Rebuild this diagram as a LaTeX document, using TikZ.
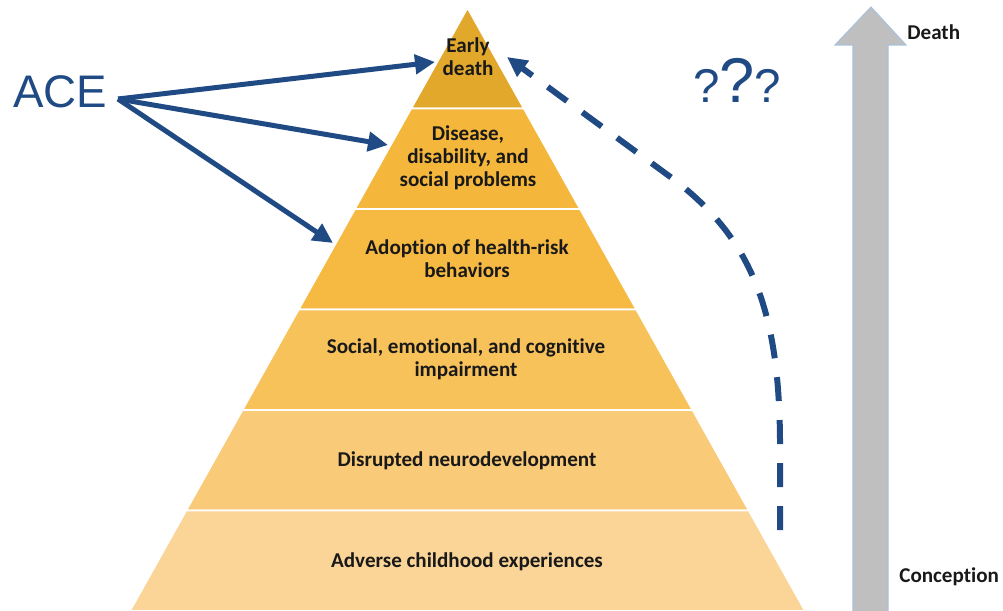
\documentclass[tikz,border=0pt]{standalone}
\usepackage{fontspec}
\setmainfont{Carlito}[Ligatures=CommonOff]
\newfontfamily\acefont{Liberation Sans}
\usepackage{xcolor}
\usepackage{tikz}
\usetikzlibrary{arrows.meta,calc}

\definecolor{layerA}{HTML}{E2A82C}
\definecolor{layerB}{HTML}{F4B63B}
\definecolor{layerC}{HTML}{F6BA43}
\definecolor{layerD}{HTML}{F8C25B}
\definecolor{layerE}{HTML}{F9CA77}
\definecolor{layerF}{HTML}{FAD597}
\definecolor{aceblue}{HTML}{1F4A84}
\definecolor{timegray}{HTML}{BFBFBF}
\definecolor{timeedge}{HTML}{A8C2DC}

\begin{document}
\begin{tikzpicture}[
    x=0.02cm, y=-0.02cm,
    layer/.style={draw=white, line width=0.9pt, line join=round},
    label/.style={font=\fontsize{12}{13}\selectfont\bfseries, text=black!90, align=center, inner sep=0pt},
    side/.style={font=\fontsize{12}{14}\selectfont\bfseries, text=black!90, anchor=west, inner sep=0pt},
    arrow/.style={-{Triangle[length=0.4cm,width=0.38cm]}, line width=0.1cm, aceblue},
    dasharrow/.style={arrow, line width=0.12cm, dash pattern=on 0.48cm off 0.38cm}
]
\useasboundingbox (0,0) rectangle (1003,611);

% Pyramid layers
\coordinate (apex) at (467.5,8);
\coordinate (bl) at (130,611);
\coordinate (br) at (805,611);
\path[layer, fill=layerA] (apex) -- ($(apex)!1/6!(br)$) -- ($(apex)!1/6!(bl)$) -- cycle;
\path[layer, fill=layerB] ($(apex)!1/6!(bl)$) -- ($(apex)!1/6!(br)$) -- ($(apex)!2/6!(br)$) -- ($(apex)!2/6!(bl)$) -- cycle;
\path[layer, fill=layerC] ($(apex)!2/6!(bl)$) -- ($(apex)!2/6!(br)$) -- ($(apex)!3/6!(br)$) -- ($(apex)!3/6!(bl)$) -- cycle;
\path[layer, fill=layerD] ($(apex)!3/6!(bl)$) -- ($(apex)!3/6!(br)$) -- ($(apex)!4/6!(br)$) -- ($(apex)!4/6!(bl)$) -- cycle;
\path[layer, fill=layerE] ($(apex)!4/6!(bl)$) -- ($(apex)!4/6!(br)$) -- ($(apex)!5/6!(br)$) -- ($(apex)!5/6!(bl)$) -- cycle;
\path[layer, fill=layerF] ($(apex)!5/6!(bl)$) -- ($(apex)!5/6!(br)$) -- (br) -- (bl) -- cycle;

% Layer labels
\node[label] (early_death) at (468,57) {Early\\death};
\node[label] (disease) at (468,158) {Disease,\\disability, and\\social problems};
\node[label] (adoption) at (467,259) {Adoption of health-risk\\behaviors};
\node[label] (impairment) at (466,359) {Social, emotional, and cognitive\\impairment};
\node[label] (neurodev) at (467,461) {Disrupted neurodevelopment};
\node[label] (adverse) at (467,562) {Adverse childhood experiences};

% ACE and its arrows
\node[font=\acefont\fontsize{26}{30}\selectfont, text=aceblue, inner sep=0pt] (ace) at (60,91.5) {ACE};
\coordinate (ace_hub) at (118,99);
\coordinate (to_death) at (435,62);
\coordinate (to_disease) at (388,145);
\coordinate (to_adoption) at (333,243);
\draw[arrow] (ace_hub) -- (to_death);
\draw[arrow] (ace_hub) -- (to_disease);
\draw[arrow] (ace_hub) -- (to_adoption);

% Unknown path back to early death
\node[font=\acefont, text=aceblue, anchor=base, inner sep=0pt] (qmarks) at (737,103)
    {{\fontsize{27}{30}\selectfont ?}{\fontsize{36}{40}\selectfont ?}{\fontsize{27}{30}\selectfont ?}};
\coordinate (loop_start) at (780,530);
\coordinate (loop_bend) at (780,440);
\coordinate (loop_turn) at (665,173);
\coordinate (loop_end) at (507,57);
\draw[dasharrow] (loop_start) -- (loop_bend) .. controls (779,310) and (752,235) .. (loop_turn) -- (loop_end);

% Timeline arrow
\path[fill=timegray, draw=timeedge, line width=0.6pt] (853,611) -- (853,45) -- (835,45) -- (871,7) -- (906,45) -- (888,45) -- (888,611);
\node[side] (death) at (907,32) {Death};
\node[side] (conception) at (899,577) {Conception};

\end{tikzpicture}
\end{document}
